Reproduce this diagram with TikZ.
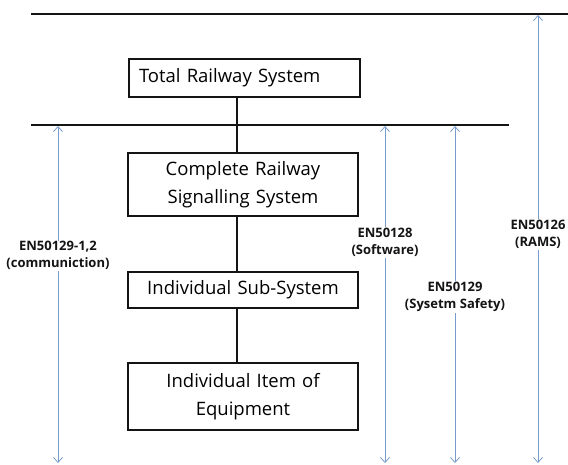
\documentclass[tikz,border=0pt]{standalone}
\usepackage{fontspec}
\setmainfont{Open Sans}
\usetikzlibrary{arrows.meta}
\definecolor{mydark}{RGB}{20,20,20}
\definecolor{myblue}{RGB}{120,155,205}
\tikzset{
  sysbox/.style={rectangle, draw=mydark, fill=white, line width=2.6pt,
    text width=230pt, align=center, inner sep=0pt,
    font=\fontsize{18.5}{28}\selectfont},
  level/.style={line width=1.8pt, color=mydark},
  link/.style={line width=2.6pt, color=mydark},
  stdspan/.style={{Straight Barb[length=5pt,width=9pt]}-{Straight Barb[length=5pt,width=9pt]},
    line width=0.8pt, color=myblue},
  stdlabel/.style={fill=white, text=mydark, align=center, inner sep=1pt,
    font=\fontsize{13}{17}\selectfont\bfseries}
}
\begin{document}
\begin{tikzpicture}[x=1pt,y=-1pt]
  \useasboundingbox (0,0) rectangle (568,464);

  % Levels
  \coordinate (topL) at (31,14);
  \coordinate (topR) at (568,14);
  \coordinate (sigL) at (31,125);
  \coordinate (sigR) at (509,125);
  \coordinate (spine) at (237,0);
  \draw[level] (topL) -- (topR);
  \draw[level] (sigL) -- (sigR);

  % Boxes
  \node[sysbox, text width=211pt, inner xsep=10pt, align=left, minimum height=38pt] (total) at (244.5,78) {Total Railway System};
  \node[sysbox, minimum height=63pt] (complete) at (243,184.5) {Complete Railway\\Signalling System};
  \node[sysbox, minimum height=36pt] (subsys) at (243,290) {Individual Sub-System};
  \node[sysbox, minimum height=67pt] (item) at (243,396.5) {Individual Item of\\Equipment};

  % Links
  \draw[link] (total.south -| spine) -- (complete.north -| spine);
  \draw[link] (complete.south -| spine) -- (subsys.north -| spine);
  \draw[link] (subsys.south -| spine) -- (item.north -| spine);

  % Standards
  \coordinate (commT) at (58,126);
  \coordinate (commB) at (58,463);
  \coordinate (softT) at (385,126);
  \coordinate (softB) at (385,463);
  \coordinate (safeT) at (455,126);
  \coordinate (safeB) at (455,463);
  \coordinate (ramsT) at (538,15);
  \coordinate (ramsB) at (538,463);
  \draw[stdspan] (commT) -- node[stdlabel, pos=0.385] (comm) {EN50129-1,2\\(communiction)} (commB);
  \draw[stdspan] (softT) -- node[stdlabel, pos=0.345] (soft) {EN50128\\(Software)} (softB);
  \draw[stdspan] (safeT) -- node[stdlabel, pos=0.507] (safe) {EN50129\\(Sysetm Safety)} (safeB);
  \draw[stdspan] (ramsT) -- node[stdlabel, pos=0.49] (rams) {EN50126\\(RAMS)} (ramsB);
\end{tikzpicture}
\end{document}
